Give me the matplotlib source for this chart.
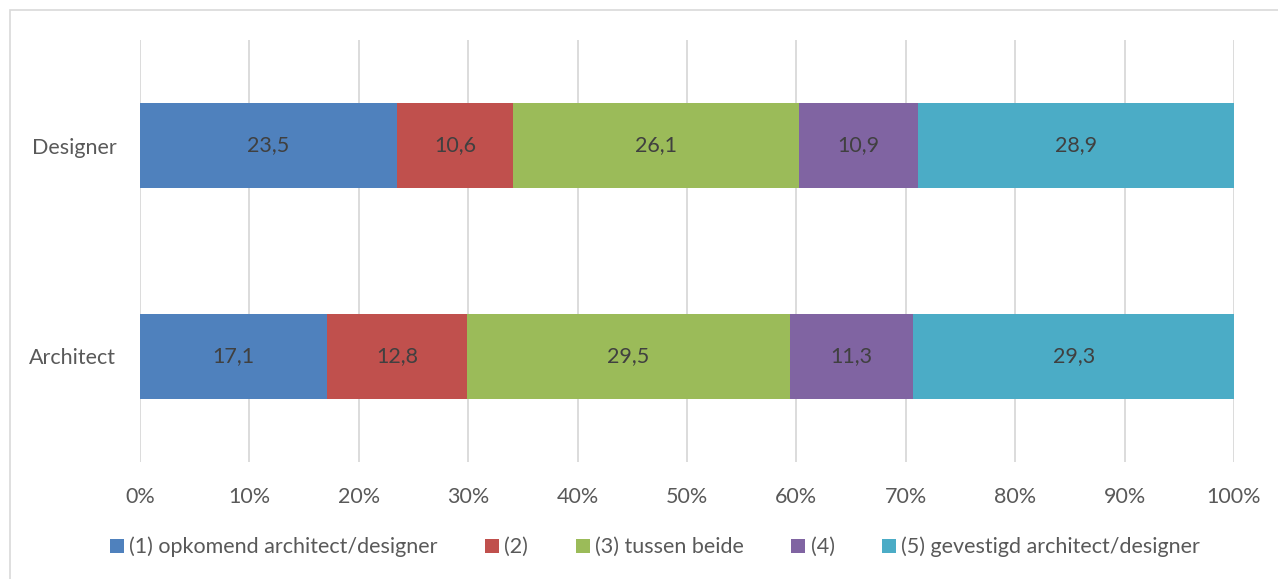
import numpy as np
import matplotlib.pyplot as plt
from matplotlib.patches import Rectangle

plt.rcParams['font.family'] = ['Lato', 'DejaVu Sans']

# 数据
categories = ['Architect', 'Designer']
series_names = ['(1) opkomend architect/designer', '(2)', '(3) tussen beide', '(4)',
                '(5) gevestigd architect/designer']
architect = [17.1, 12.8, 29.5, 11.3, 29.3]
designer = [23.5, 10.6, 26.1, 10.9, 28.9]
colors = ['#4F81BD', '#C0504D', '#9BBB59', '#8064A2', '#4BACC6']

values = np.array([architect, designer])  # 行: 类别, 列: 系列
totals = values.sum(axis=1)
pct = values / totals[:, None] * 100

fig = plt.figure(figsize=(12.78, 5.79), dpi=100)
ax = fig.add_axes([140 / 1278, 1 - 462 / 579, (1234 - 140) / 1278, (462 - 40) / 579])

# 图表外框
fig.patches.append(Rectangle((10 / 1278, -0.1), 1.2, 1 - 10 / 579 + 0.1, transform=fig.transFigure,
                             fill=False, edgecolor='#D9D9D9', linewidth=1.2))

y = np.arange(len(categories))
left = np.zeros(len(categories))
for i, name in enumerate(series_names):
    bars = ax.barh(y, pct[:, i], left=left, height=0.4, color=colors[i], label=name, zorder=3)
    for j, b in enumerate(bars):
        ax.text(left[j] + pct[j, i] / 2, y[j], f'{values[j, i]:.1f}'.replace('.', ','),
                ha='center', va='center', fontsize=15.5, color='#404040', zorder=4)
    left += pct[:, i]

ax.set_xlim(0, 100)
ax.set_ylim(-0.5, 1.5)
ax.set_xticks(np.arange(0, 101, 10))
ax.set_xticklabels([f'{v}%' for v in range(0, 101, 10)])
ax.set_yticks(y)
ax.set_yticklabels(categories)
ax.tick_params(axis='both', length=0, labelsize=15.5, labelcolor='#595959')
ax.tick_params(axis='x', pad=18)
ax.tick_params(axis='y', pad=17)
ax.grid(axis='x', color='#D9D9D9', linewidth=1.3, zorder=0)
for s in ax.spines.values():
    s.set_visible(False)

fig.legend(loc='center', bbox_to_anchor=(655 / 1278, 1 - 547 / 579), ncol=5, frameon=False,
           fontsize=15.5, labelcolor='#595959', handlelength=0.65, handleheight=0.65,
           handletextpad=0.25, columnspacing=2.2)

plt.savefig('out.png', dpi=100)
